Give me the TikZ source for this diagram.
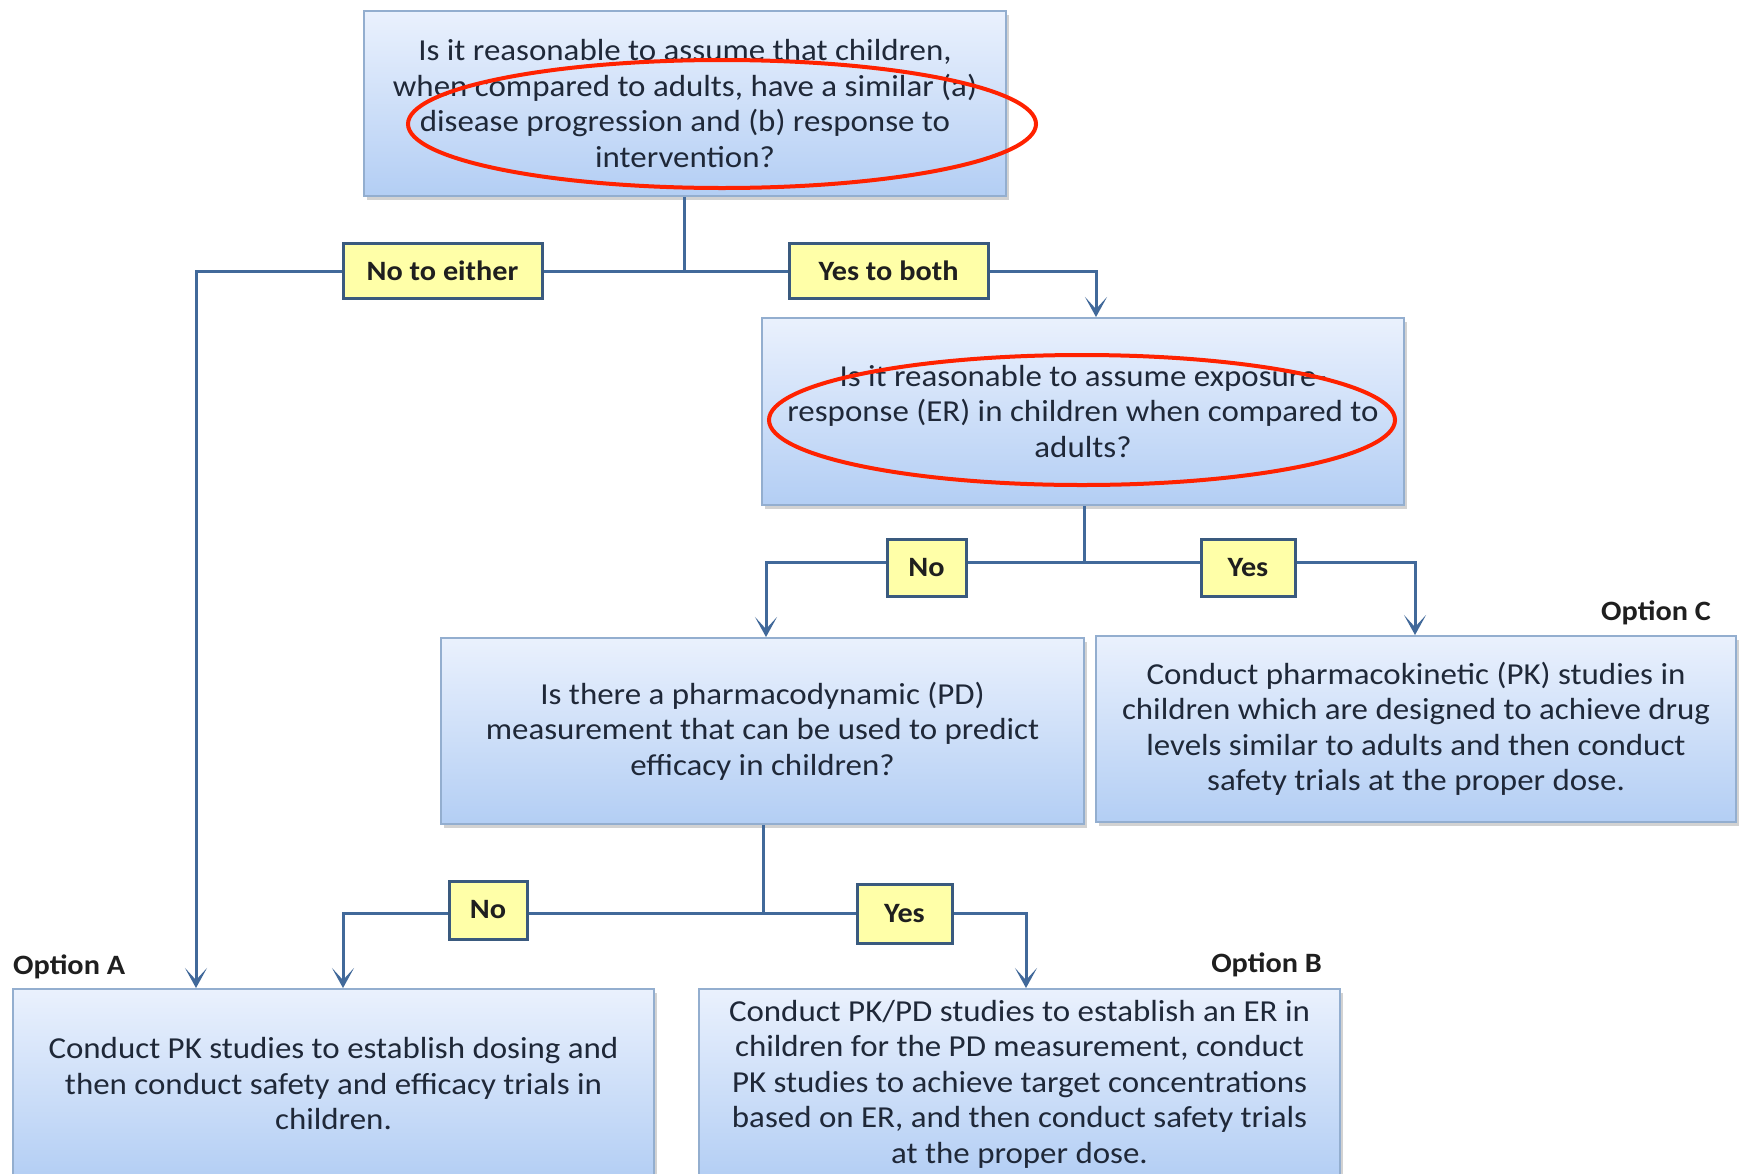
\documentclass[tikz,border=0pt]{standalone}
\usepackage{fontspec}
\setmainfont{Carlito}[FakeStretch=1.08]
\usetikzlibrary{arrows.meta,shadows,calc}
\definecolor{boxtop}{HTML}{EAF1FD}
\definecolor{boxbot}{HTML}{B3CEF4}
\definecolor{boxline}{HTML}{93AECF}
\definecolor{connc}{HTML}{41699A}
\definecolor{lblfill}{HTML}{FFFFA8}
\definecolor{lblline}{HTML}{3A5A7E}
\definecolor{txtc}{HTML}{1F2838}
\definecolor{ellc}{HTML}{FF2200}
\tikzset{
  bigbox/.style={rectangle, draw=boxline, line width=2pt, top color=boxtop, bottom color=boxbot,
    minimum width=641pt, minimum height=186pt, align=center, text=txtc,
    font=\fontsize{30.5}{35.5}\selectfont, inner sep=0pt,
    drop shadow={opacity=0.35, shadow xshift=3pt, shadow yshift=-4pt, fill=black!50}},
  lbl/.style={rectangle, draw=lblline, line width=3pt, fill=lblfill, inner sep=0pt,
    font=\fontsize{28}{32}\selectfont\bfseries, text=black!88},
  conn/.style={draw=connc, line width=3pt},
  arr/.style={conn, -{Stealth[length=20pt,width=22pt,inset=12pt]}},
  opt/.style={font=\fontsize{28}{32}\selectfont\bfseries, text=black!88, inner sep=0pt},
  redell/.style={draw=ellc, line width=4pt}
}
\begin{document}
\begin{tikzpicture}[x=1pt,y=-1pt]
\clip (0,0) rectangle (1739,1173);
\fill[white] (0,0) rectangle (1739,1173);

% boxes
\node[bigbox, minimum width=642pt, minimum height=185pt] (q1) at (685,103.5)
  {Is it reasonable to assume that children,\\ when compared to adults, have a similar (a)\\ disease progression and (b) response to\\ intervention?};
\node[bigbox, minimum width=642pt, minimum height=187pt] (q2) at (1083,411.5)
  {Is it reasonable to assume exposure-\\ response (ER) in children when compared to\\ adults?};
\node[bigbox, minimum width=643pt] (q3) at (762.5,731)
  {Is there a pharmacodynamic (PD)\\ measurement that can be used to predict\\ efficacy in children?};
\node[bigbox, minimum width=640pt] (oc) at (1416,729)
  {Conduct pharmacokinetic (PK) studies in\\ children which are designed to achieve drug\\ levels similar to adults and then conduct\\ safety trials at the proper dose.};
\node[bigbox, minimum width=641pt, minimum height=190pt] (oa) at (333.5,1084)
  {Conduct PK studies to establish dosing and\\ then conduct safety and efficacy trials in\\ children.};
\node[bigbox, minimum width=641pt, minimum height=190pt] (ob) at (1019.5,1084)
  {Conduct PK/PD studies to establish an ER in\\ children for the PD measurement, conduct\\ PK studies to achieve target concentrations\\ based on ER, and then conduct safety trials\\ at the proper dose.};

% junction coordinates
\coordinate (j1) at (684,271);
\coordinate (l1) at (196,271);
\coordinate (r1) at (1096,271);
\coordinate (j2) at (1084,562);
\coordinate (l2) at (766,562);
\coordinate (r2) at (1415,562);
\coordinate (j3) at (763,913);
\coordinate (l3) at (343,913);
\coordinate (r3) at (1026,913);

% connectors
\draw[conn] (q1.south -| j1) -- (j1);
\draw[arr] (j1) -- (l1) -- (l1 |- oa.north);
\draw[arr] (j1) -- (r1) -- (r1 |- q2.north);
\draw[conn] (q2.south -| j2) -- (j2);
\draw[arr] (j2) -- (l2) -- (l2 |- q3.north);
\draw[arr] (j2) -- (r2) -- (r2 |- oc.north);
\draw[conn] (q3.south -| j3) -- (j3);
\draw[arr] (j3) -- (l3) -- (l3 |- oa.north);
\draw[arr] (j3) -- (r3) -- (r3 |- ob.north);

% labels
\node[lbl, minimum width=199pt, minimum height=55pt] (n1) at (442.5,270.5) {No to either};
\node[lbl, minimum width=199pt, minimum height=55pt] (y1) at (888.5,270.5) {Yes to both};
\node[lbl, minimum width=79pt, minimum height=57pt] (n2) at (926.5,567.5) {No};
\node[lbl, minimum width=94pt, minimum height=57pt] (y2) at (1248,567.5) {Yes};
\node[lbl, minimum width=78pt, minimum height=58pt] (n3) at (488,910) {No};
\node[lbl, minimum width=95pt, minimum height=59pt] (y3) at (904.5,913.5) {Yes};

% option labels
\node[opt, anchor=west] (opa) at (13,967) {Option A};
\node[opt, anchor=east] (opb) at (1322,965) {Option B};
\node[opt, anchor=east] (opc) at (1711,613) {Option C};

% red ellipses
\draw[redell] (722,124) ellipse [x radius=314, y radius=64];
\draw[redell] (1082,420) ellipse [x radius=313, y radius=65];
\end{tikzpicture}
\end{document}
